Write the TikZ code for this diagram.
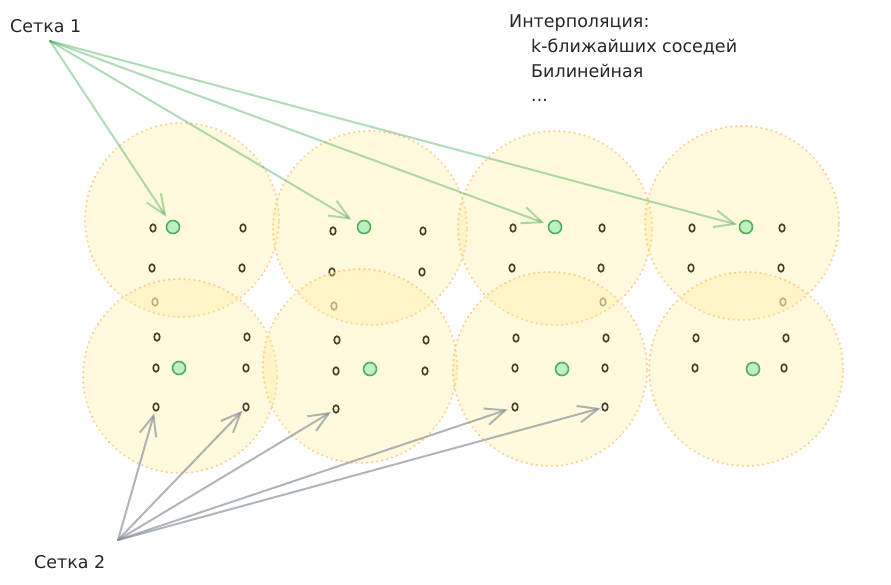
\documentclass[tikz,border=0pt]{standalone}
\usepackage{fontspec}
\setmainfont{DejaVu Sans}
\usetikzlibrary{arrows.meta,shapes.geometric}
\definecolor{zonefill}{RGB}{255,236,153}
\definecolor{zoneedge}{RGB}{255,192,120}
\definecolor{ptedge}{RGB}{70,60,40}
\definecolor{gfill}{RGB}{190,240,195}
\definecolor{gedge}{RGB}{80,175,90}
\definecolor{garrow}{RGB}{47,158,68}
\definecolor{grarrow}{RGB}{134,142,150}
\tikzset{
  zone/.style={circle, fill=zonefill, fill opacity=0.33, draw=zoneedge, draw opacity=0.8,
    line width=2.3pt, dash pattern=on 0.1pt off 5pt, line cap=round, minimum size=194pt, inner sep=0pt},
  pt/.style={ellipse, draw=ptedge, line width=1.6pt, minimum width=5.6pt, minimum height=7.6pt, inner sep=0pt},
  faded/.style={pt, draw opacity=0.55},
  gpt/.style={circle, fill=gfill, draw=gedge, line width=1.6pt, minimum size=13pt, inner sep=0pt},
  tip/.style={-{Straight Barb[length=20pt,width=17pt]}},
  garr/.style={tip, draw=garrow, draw opacity=0.38, line width=2pt, line cap=round},
  grarr/.style={tip, draw=grarrow, draw opacity=0.65, line width=2pt, line cap=round},
  lbl/.style={anchor=base west, inner sep=0pt, font=\fontsize{17.5}{20}\selectfont, text=black!85}
}
\begin{document}
\begin{tikzpicture}[x=1pt,y=-1pt]
\useasboundingbox (0,0) rectangle (891,585);
% top row zones
\node[zone] (z1) at (182,220) {};
\node[zone] (z2) at (370,228) {};
\node[zone] (z3) at (555,228) {};
\node[zone] (z4) at (742,223) {};
% top row points
\node[pt] (a1) at (153,228) {};
\node[pt] (a2) at (243,228) {};
\node[pt] (a3) at (152,268) {};
\node[pt] (a4) at (242,268) {};
\node[faded] (a5) at (155,302) {};
\node[gpt] (g1) at (173,227) {};
\node[pt] (b1) at (333,231) {};
\node[pt] (b2) at (423,231) {};
\node[pt] (b3) at (332,272) {};
\node[pt] (b4) at (422,272) {};
\node[faded] (b5) at (334,306) {};
\node[gpt] (g2) at (364,227) {};
\node[pt] (c1) at (513,228) {};
\node[pt] (c2) at (602,228) {};
\node[pt] (c3) at (512,268) {};
\node[pt] (c4) at (601,268) {};
\node[faded] (c5) at (603,302) {};
\node[gpt] (g3) at (555,227) {};
\node[pt] (d1) at (692,228) {};
\node[pt] (d2) at (782,228) {};
\node[pt] (d3) at (691,268) {};
\node[pt] (d4) at (781,268) {};
\node[faded] (d5) at (783,302) {};
\node[gpt] (g4) at (746,227) {};
% bottom row zones
\node[zone] (w1) at (180,376) {};
\node[zone] (w2) at (360,366) {};
\node[zone] (w3) at (550,369) {};
\node[zone] (w4) at (746,369) {};
% bottom row points
\node[pt] (e1) at (157,337) {};
\node[pt] (e2) at (247,337) {};
\node[pt] (e3) at (156,368) {};
\node[pt] (e4) at (246,368) {};
\node[pt] (e5) at (156,407) {};
\node[pt] (e6) at (246,407) {};
\node[gpt] (h1) at (179,368) {};
\node[pt] (f1) at (337,340) {};
\node[pt] (f2) at (426,340) {};
\node[pt] (f3) at (336,371) {};
\node[pt] (f4) at (425,371) {};
\node[pt] (f5) at (336,409) {};
\node[gpt] (h2) at (370,369) {};
\node[pt] (k1) at (516,338) {};
\node[pt] (k2) at (606,338) {};
\node[pt] (k3) at (515,368) {};
\node[pt] (k4) at (605,368) {};
\node[pt] (k5) at (515,407) {};
\node[pt] (k6) at (605,407) {};
\node[gpt] (h3) at (562,369) {};
\node[pt] (m1) at (696,338) {};
\node[pt] (m2) at (786,338) {};
\node[pt] (m3) at (695,368) {};
\node[pt] (m4) at (784,368) {};
\node[gpt] (h4) at (753,369) {};
% labels
\node[lbl] (l1) at (10,33) {Сетка 1};
\node[lbl] (l2) at (34,568) {Сетка 2};
\node[lbl] (t0) at (509,28) {Интерполяция:};
\node[lbl] (t1) at (531,53) {k-ближайших соседей};
\node[lbl] (t2) at (531,78) {Билинейная};
\node[lbl] (t3) at (531,102) {...};
\coordinate (s1) at (50,41);
\coordinate (s2) at (118,540);
% green arrows
\draw[garr, shorten >=5pt] (s1) -- (g1);
\draw[garr, shorten >=7pt] (s1) -- (g2);
\draw[garr, shorten >=4pt] (s1) -- (g3);
\draw[garr, shorten >=2pt] (s1) -- (g4);
% gray arrows
\draw[grarr, shorten >=2pt] (s2) -- (e5);
\draw[grarr, shorten >=1pt] (s2) -- (e6);
\draw[grarr, shorten >=2pt] (s2) -- (f5);
\draw[grarr, shorten >=4pt] (s2) -- (k5);
\draw[grarr, shorten >=1pt] (s2) -- (k6);
\end{tikzpicture}
\end{document}
